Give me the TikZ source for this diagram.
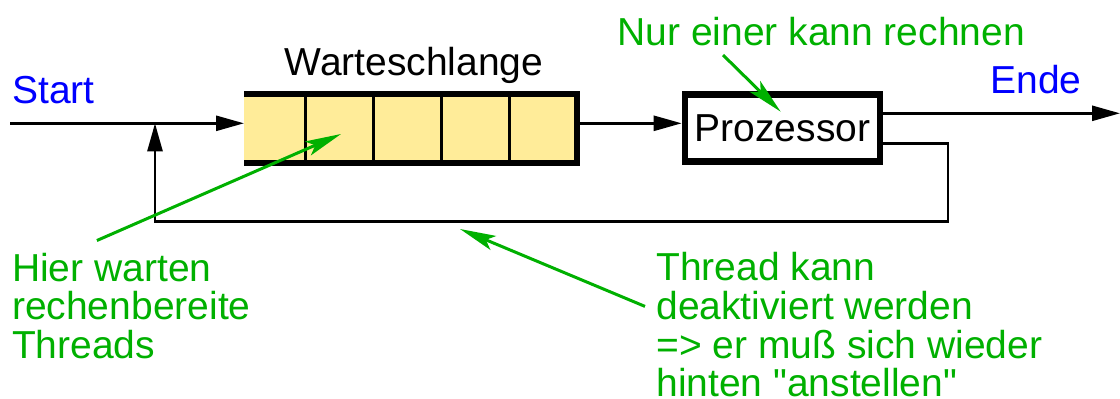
\documentclass[tikz,border=0pt]{standalone}
\usepackage{fontspec}
\setmainfont{Liberation Sans}[Ligatures=TeXOff]
\usetikzlibrary{positioning,arrows.meta}
\definecolor{notegreen}{RGB}{0,176,0}
\definecolor{queuefill}{RGB}{255,236,153}

\begin{document}
\begin{tikzpicture}[x=0.5pt,y=-0.5pt,
  font=\fontsize{19.5}{19.4}\selectfont,
  flow/.style={line width=1.3pt,-{Triangle[length=14pt,width=7.5pt]}},
  note/.style={notegreen,line width=1.5pt,-{Stealth[length=18pt,width=7.5pt,inset=4pt]}},
  txt/.style={inner sep=0pt}]
\useasboundingbox (0,0) rectangle (1120,398);

% queue
\node[fill=queuefill,minimum width=166.5pt,minimum height=34.25pt,inner sep=0pt,outer sep=0pt] (queue) at (410.5,128.25) {};
\draw[line width=3pt] (queue.north west) -- (queue.north east) -- (queue.south east) -- (queue.south west);
\foreach \k in {1,...,4}
  \draw[line width=1.5pt] ([xshift=-\k*34pt]queue.north east) -- ([xshift=-\k*34pt]queue.south east);
\node[txt,anchor=base] (qname) at (414,75) {Warteschlange};

% processor
\node[draw,line width=3.3pt,minimum width=97.5pt,minimum height=33.7pt,inner sep=0pt] (proz) at (782.5,128) {Prozessor};

% flow
\coordinate (start) at (10,123.3);
\coordinate (join) at (155,123.3);
\coordinate (turn) at (948,221.7);
\coordinate (end) at (1120,113.3);
\draw[flow] (start) -- (start -| queue.west);
\draw[flow] (queue.east |- start) -- (proz.west |- start);
\draw[flow] ([yshift=7.35pt]proz.east) -- (end);
\draw[flow] ([yshift=-7.65pt]proz.east) -| (turn) -| (join);

% labels
\node[txt,blue,anchor=base west] (startlabel) at (12,103.3) {Start};
\node[txt,blue,anchor=base west] (ende) at (990,93.3) {Ende};
\node[txt,notegreen,anchor=base west] (nur) at (617,45) {Nur einer kann rechnen};
\node[txt,notegreen,anchor=north west,align=left] (hier) at (11.7,252.5) {Hier warten\\rechenbereite\\Threads};
\node[txt,notegreen,anchor=north west,align=left] (thread) at (656,251.8) {Thread kann\\deaktiviert werden\\=> er muß sich wieder\\hinten "anstellen"};

% notes
\coordinate (cell) at (341,134);
\coordinate (loop) at (460,229);
\coordinate (cpu) at (780.7,111.7);
\draw[note] ([shift={(42.6pt,6pt)}]hier.north west) -- (cell);
\draw[note] ([shift={(-5.5pt,-27.3pt)}]thread.north west) -- (loop);
\draw[note] ([shift={(53pt,-5pt)}]nur.base west) -- (cpu);
\end{tikzpicture}
\end{document}
